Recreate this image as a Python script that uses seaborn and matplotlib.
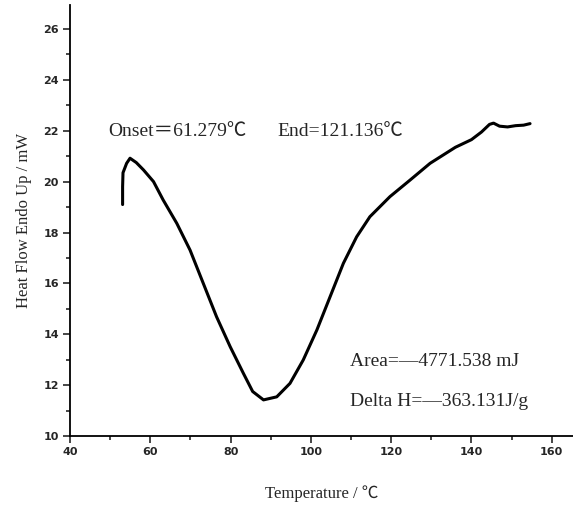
import pandas as pd
import matplotlib.pyplot as plt
import seaborn as sns
from matplotlib.ticker import MultipleLocator

# DSC curve
temperature = [53.1, 53.1, 53.2, 54.1, 54.95, 56.5, 58.3, 60.8, 63.2, 66.6, 69.9,
               73.2, 76.5, 79.9, 83.2, 85.5, 88.2, 91.5, 94.8, 98.1, 101.5,
               104.8, 108.1, 111.4, 114.7, 119.7, 124.7, 129.7, 133.0, 136.0,
               140.0, 142.5, 144.5, 145.5, 147.0, 149.0, 151.0, 153.0, 154.6]
heat_flow = [19.1, 19.8, 20.35, 20.72, 20.92, 20.75, 20.46, 20.0, 19.28, 18.36,
             17.31, 16.0, 14.69, 13.51, 12.46, 11.75, 11.42, 11.54, 12.07,
             12.99, 14.17, 15.48, 16.79, 17.83, 18.62, 19.41, 20.06, 20.72,
             21.05, 21.35, 21.65, 21.95, 22.25, 22.3, 22.18, 22.15, 22.2,
             22.22, 22.28]

annotations = ["Onset\uff1d61.279\u2103", "End=121.136\u2103",
               "Area=\u20144771.538 mJ", "Delta H=\u2014363.131J/g"]

df = pd.DataFrame({"temp": temperature, "hf": heat_flow})

sns.set_style("ticks")
serif = ["Liberation Serif", "Noto Sans CJK SC", "DejaVu Sans"]

fig = plt.figure(figsize=(5.73, 5.08), dpi=100)
ax = fig.add_axes([0.1222, 0.1417, 0.8778, 0.8483])

sns.lineplot(data=df, x="temp", y="hf", sort=False, estimator=None,
             color="black", linewidth=2.2, ax=ax)

ax.set_xlim(40, 165.3)
ax.set_ylim(10, 26.94)
ax.xaxis.set_major_locator(MultipleLocator(20))
ax.xaxis.set_minor_locator(MultipleLocator(10))
ax.yaxis.set_major_locator(MultipleLocator(2))
ax.yaxis.set_minor_locator(MultipleLocator(1))
ax.tick_params(which="major", direction="out", length=5, width=1.2, pad=3)
ax.tick_params(which="minor", direction="out", length=3, width=1.2)
for lab in ax.get_xticklabels() + ax.get_yticklabels():
    lab.set_fontsize(8)
    lab.set_fontweight("bold")
    lab.set_family("DejaVu Sans")

sns.despine(ax=ax)
for s in ["left", "bottom"]:
    ax.spines[s].set_linewidth(1.3)
    ax.spines[s].set_color("black")

ax.set_xlabel("Temperature / \u2103", fontsize=12, family=serif, labelpad=20)
ax.set_ylabel("Heat Flow Endo Up / mW", fontsize=12, family=serif, labelpad=8)

ax.text(0.0766, 0.706, annotations[0], transform=ax.transAxes, fontsize=14,
        family=serif, va="center")
ax.text(0.412, 0.706, annotations[1], transform=ax.transAxes, fontsize=14,
        family=serif, va="center")
ax.text(0.557, 0.172, annotations[2], transform=ax.transAxes, fontsize=14,
        family=serif, va="center")
ax.text(0.557, 0.079, annotations[3], transform=ax.transAxes, fontsize=14,
        family=serif, va="center")

fig.savefig("out.png", dpi=100)
